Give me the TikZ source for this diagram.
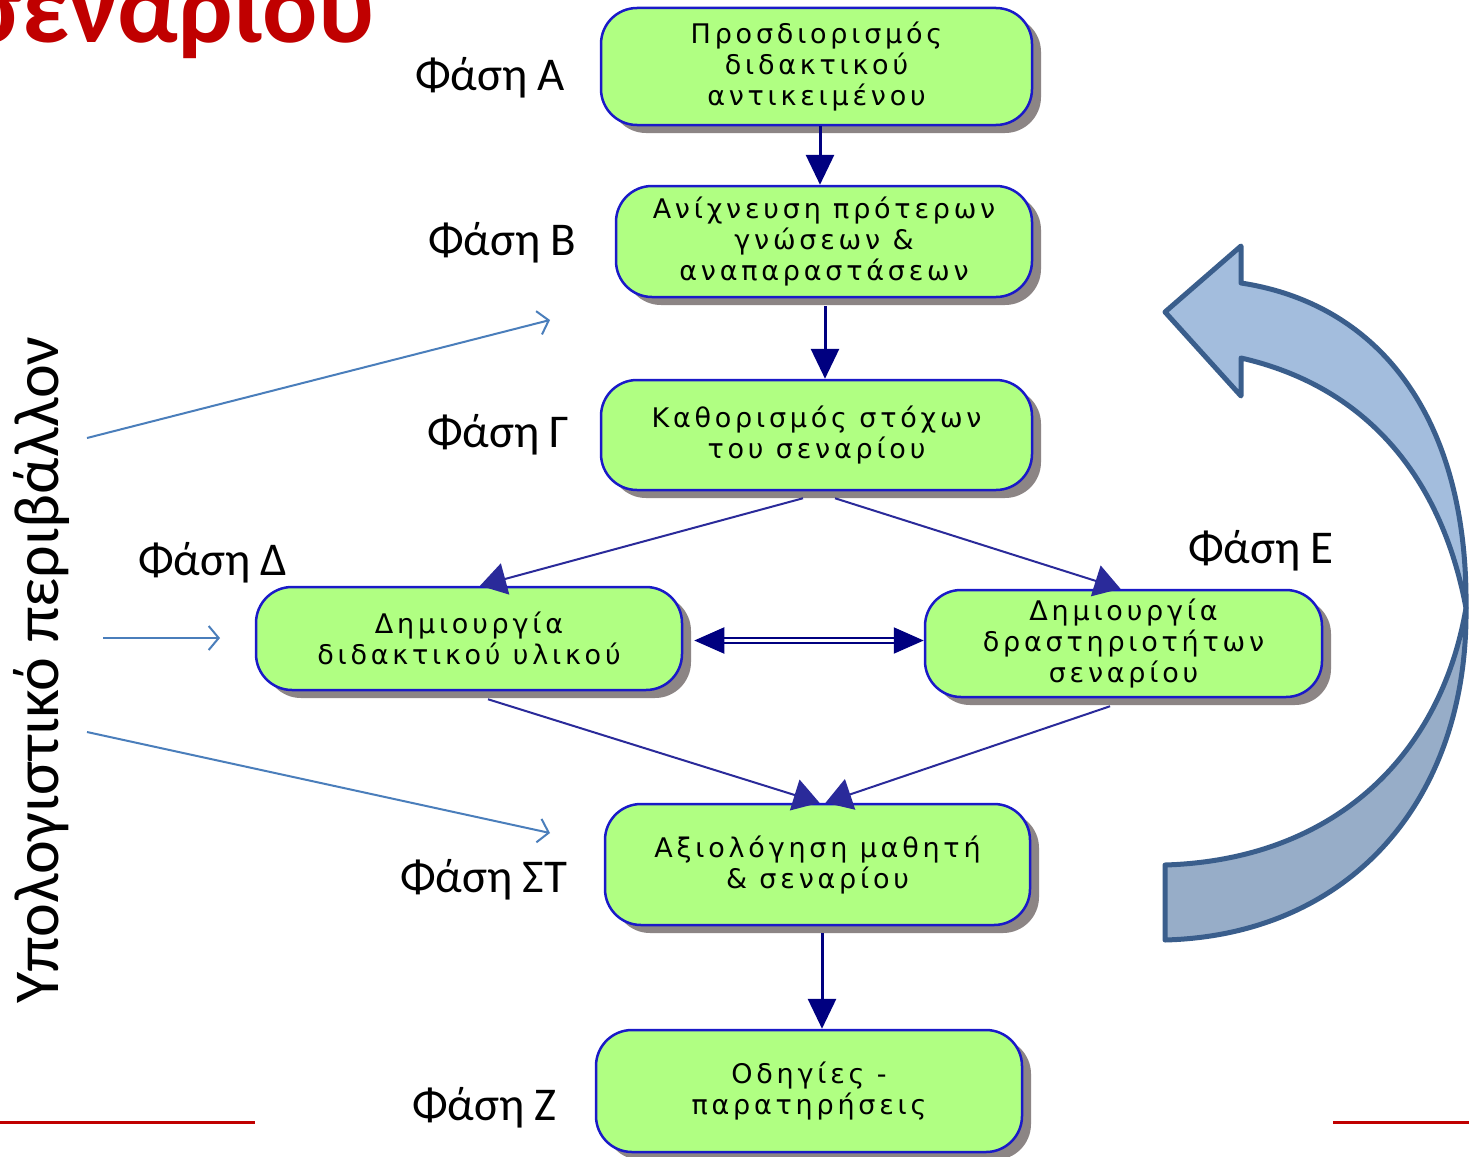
\documentclass[tikz,border=0pt]{standalone}
\usepackage{fontspec}
\setmainfont{Carlito}
\newfontfamily\boxfont[LetterSpace=14]{DejaVu Sans}
\usetikzlibrary{arrows.meta,shadows}
\definecolor{boxgreen}{HTML}{B0FF82}
\definecolor{boxblue}{HTML}{1A1AC8}
\definecolor{navy}{HTML}{000080}
\definecolor{diagnavy}{HTML}{2A2A9A}
\definecolor{shadowgray}{HTML}{8C8585}
\definecolor{envblue}{HTML}{4A7EBB}
\definecolor{arrowtop}{HTML}{A3BDDD}
\definecolor{arrowbot}{HTML}{97ADC8}
\definecolor{arrowedge}{HTML}{3A5E8C}
\definecolor{titlered}{HTML}{C00000}
\tikzset{
  stagebox/.style={rectangle, rounded corners=36pt, draw=boxblue, line width=2.5pt,
    fill=boxgreen, inner sep=0pt, align=center,
    font=\boxfont\fontsize{27}{31}\selectfont,
    drop shadow={shadow xshift=9pt, shadow yshift=-8pt, fill=shadowgray, opacity=1}},
  phaselbl/.style={anchor=base west, inner sep=0pt, font=\fontsize{47}{50}\selectfont},
  flow/.style={draw=navy, line width=3pt, -{Triangle[length=30pt,width=28pt]}},
  diagflow/.style={draw=diagnavy, line width=2pt, -{Triangle[length=26pt,width=32pt]}},
  envarrow/.style={draw=envblue, line width=2pt, -{Straight Barb[length=10pt,width=24pt]}},
  bigarrow/.style={draw=arrowedge, line width=5pt, line join=round},
  redline/.style={draw=titlered, line width=3pt}
}
\begin{document}
\begin{tikzpicture}[x=1pt,y=-1pt]
\useasboundingbox (0,0) rectangle (1469,1156);
\clip (0,0) rectangle (1469,1156);
\fill[white] (0,0) rectangle (1469,1156);

% title fragment
\node[anchor=base east, inner sep=0pt, text=titlered,
  font=\bfseries\fontsize{103}{103}\selectfont] (title) at (375,43) {σεναρίου};

% red rules
\draw[redline] (0,1122) -- (255,1122);
\draw[redline] (1333,1122) -- (1469,1122);

% vertical label
\node[rotate=90, anchor=base, inner sep=0pt, font=\fontsize{64}{64}\selectfont]
  (env) at (58,670) {Υπολογιστικό περιβάλλον};

% boxes
\node[stagebox, minimum width=431pt, minimum height=117pt] (A) at (816.5,66.5)
  {Προσδιορισμός\\διδακτικού\\αντικειμένου};
\node[stagebox, minimum width=416pt, minimum height=111pt] (B) at (824,241.5)
  {Ανίχνευση πρότερων\\γνώσεων \&\\αναπαραστάσεων};
\node[stagebox, minimum width=431pt, minimum height=110pt] (G) at (816.5,435)
  {Καθορισμός στόχων\\του σεναρίου};
\node[stagebox, minimum width=426pt, minimum height=103pt] (D) at (469,638.5)
  {Δημιουργία\\διδακτικού υλικού};
\node[stagebox, minimum width=397pt, minimum height=107pt] (E) at (1123.5,643.5)
  {Δημιουργία\\δραστηριοτήτων\\σεναρίου};
\node[stagebox, minimum width=425pt, minimum height=121pt] (S) at (817.5,864.5)
  {Αξιολόγηση μαθητή\\\& σεναρίου};
\node[stagebox, minimum width=426pt, minimum height=122pt] (Z) at (809,1091)
  {Οδηγίες -\\παρατηρήσεις};

% phase labels
\node[phaselbl] (lA) at (415,90) {Φάση Α};
\node[phaselbl] (lB) at (428,255) {Φάση Β};
\node[phaselbl] (lG) at (427,447) {Φάση Γ};
\node[phaselbl] (lD) at (138,575) {Φάση Δ};
\node[phaselbl] (lE) at (1188,563) {Φάση Ε};
\node[phaselbl] (lS) at (400,892) {Φάση ΣΤ};
\node[phaselbl] (lZ) at (412,1120) {Φάση Ζ};

% connectors
\draw[flow] ([xshift=3.5pt]A.south) -- ([xshift=-4pt]B.north);
\draw[flow] ([xshift=1pt,yshift=-8pt]B.south) -- ([xshift=8.5pt]G.north);
\draw[diagflow] ([xshift=-13.5pt,yshift=-7pt]G.south) -- ([xshift=11pt]D.north);
\draw[diagflow] ([xshift=18.5pt,yshift=-7pt]G.south) -- ([xshift=-3pt]E.north);
\draw[diagflow] ([xshift=19pt,yshift=-8pt]D.south) -- ([xshift=2pt]S.north);
\draw[diagflow] ([xshift=-13.5pt,yshift=-8pt]E.south) -- ([xshift=8pt]S.north);
\draw[draw=navy, line width=2pt, double=white, double distance=3pt,
  {Triangle[length=30pt,width=26pt]}-{Triangle[length=30pt,width=26pt]}]
  ([xshift=11pt,yshift=-2pt]D.east) -- ([yshift=-2pt]D.east -| E.west);
\draw[flow] ([xshift=4.5pt,yshift=-7pt]S.south) -- ([xshift=13pt]Z.north);

% environment arrows
\coordinate (e1s) at (87,438);
\coordinate (e1e) at (550,320);
\coordinate (e2s) at (103,638);
\coordinate (e2e) at (220,638);
\coordinate (e3s) at (87,732);
\coordinate (e3e) at (550,833);
\draw[envarrow] (e1s) -- (e1e);
\draw[envarrow] (e2s) -- (e2e);
\draw[envarrow] (e3s) -- (e3e);

% big curved return arrow
\draw[bigarrow, fill=arrowbot] (1466,608) .. controls (1468,800) and (1350,935) .. (1165,940)
  -- (1165,865) .. controls (1330,860) and (1440,760) .. (1466,608) -- cycle;
\draw[bigarrow, fill=arrowtop] (1241,283) .. controls (1385,305) and (1468,425) .. (1466,608)
  .. controls (1440,470) and (1360,385) .. (1241,358) -- (1241,396) -- (1165,312)
  -- (1241,246) -- cycle;
\end{tikzpicture}
\end{document}
